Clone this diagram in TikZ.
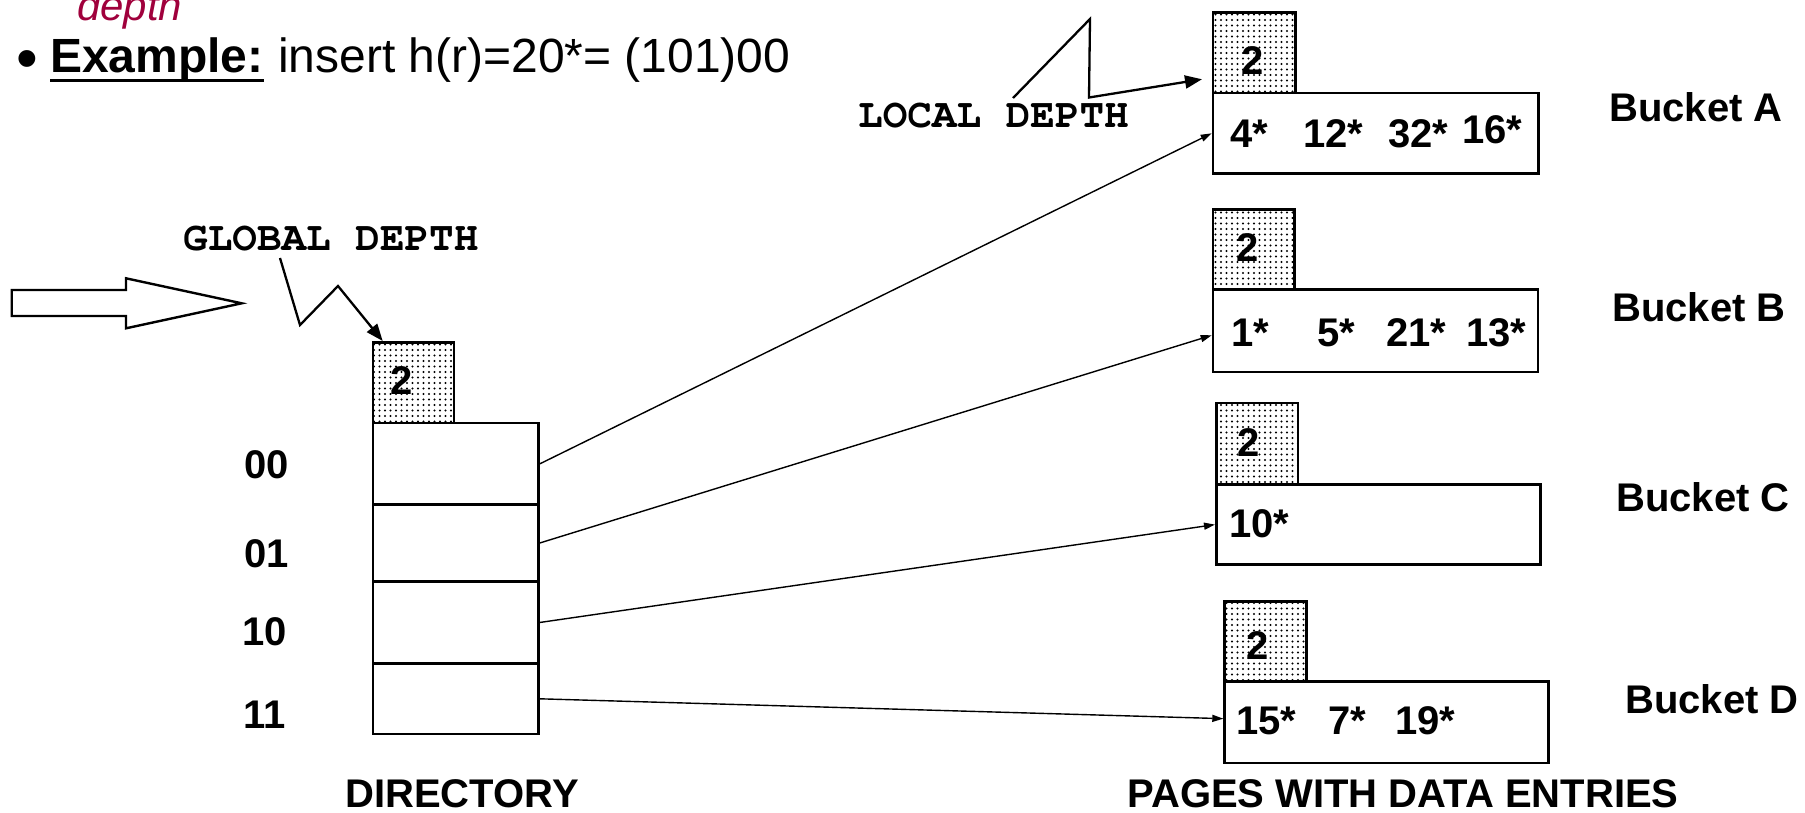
\documentclass[tikz,border=0pt]{standalone}
\usepackage[T1]{fontenc}
\usepackage{fontspec}
\setmainfont{Liberation Sans}
\usetikzlibrary{arrows.meta,patterns.meta}
\definecolor{crimson}{RGB}{160,0,60}
\newcommand\courbold{\fontencoding{T1}\fontfamily{pcr}\fontseries{b}\selectfont}
\tikzset{
  box/.style={draw, line width=2.6pt, inner sep=0pt, anchor=north west},
  dbox/.style={box, pattern={Dots[distance=5.5pt,radius=1.05pt]}},
  ent/.style={anchor=base west, inner sep=0pt, font=\fontsize{40}{48}\selectfont\bfseries},
  two/.style={anchor=base, inner sep=0pt, font=\fontsize{40}{48}\selectfont\bfseries},
  lbl/.style={anchor=base west, inner sep=0pt, font=\fontsize{40}{48}\selectfont\bfseries},
  mono/.style={anchor=base west, inner sep=0pt, font=\fontsize{41}{48}\courbold},
  conn/.style={line width=1.4pt, -{Triangle[length=11pt,width=7pt]}},
  zz/.style={line width=2.3pt, -{Triangle[length=17pt,width=13pt]}}
}
\begin{document}
\begin{tikzpicture}[x=1pt,y=-1pt]
\fill[white] (0,0) rectangle (1805,812);
\useasboundingbox (0,0) rectangle (1805,812);

% top text
\node[anchor=base west, inner sep=0pt, font=\fontsize{42}{50}\selectfont\itshape, text=crimson] (dep) at (77,20) {depth};
\node[anchor=base west, inner sep=0pt, font=\fontsize{62}{62}\selectfont] (bul) at (16,79) {•};
\node[anchor=base west, inner sep=0pt, font=\fontsize{48}{56}\selectfont\bfseries] (exb) at (50,72) {Example:};
\node[anchor=base west, inner sep=0pt, font=\fontsize{48}{56}\selectfont] (exr) at ([xshift=14pt]exb.base east) {insert h(r)=20*= (101)00};
\draw[line width=3pt] ([yshift=-8pt]exb.base west) -- ([yshift=-8pt]exb.base east);

% hollow arrow
\draw[line width=2.4pt] (11.7,290) -- (126,290) -- (126,278.3) -- (241.7,303.3) -- (126,328.3) -- (126,316) -- (11.7,316) -- cycle;

% directory
\node[dbox, minimum width=81pt, minimum height=80.7pt] (gd) at (371.7,341) {};
\node[two] (gd2) at (402,394) {2};
\node[box, minimum width=165.6pt, minimum height=81.6pt] (d00) at (371.7,421.7) {};
\node[box, minimum width=165.6pt, minimum height=76.7pt] (d01) at (371.7,503.3) {};
\node[box, minimum width=165.6pt, minimum height=82.3pt] (d10) at (371.7,580) {};
\node[box, minimum width=165.6pt, minimum height=70.4pt] (d11) at (371.7,662.3) {};
\node[lbl] (l00) at (244,478) {00};
\node[lbl] (l01) at (244,567) {01};
\node[lbl] (l10) at (242,645) {10};
\node[lbl] (l11) at (243,728) {11};

\node[mono] (gdl) at (183,250) {GLOBAL DEPTH};
\coordinate (gs) at (280,258);
\draw[zz] (gs) -- (300,325) -- (338,286) -- ([xshift=11pt]gd.north west);

% buckets
\node[dbox, minimum width=82.3pt, minimum height=80.7pt] (dA) at (1211.7,11) {};
\node[box, minimum width=325.3pt, minimum height=80.6pt] (bA) at (1211.7,91.7) {};
\node[dbox, minimum width=81.6pt, minimum height=80pt] (dB) at (1211.7,208.3) {};
\node[box, minimum width=325pt, minimum height=82.4pt] (bB) at (1211.7,288.3) {};
\node[dbox, minimum width=81.7pt, minimum height=81.6pt] (dC) at (1215,401.7) {};
\node[box, minimum width=324.3pt, minimum height=80pt] (bC) at (1215,483.3) {};
\node[dbox, minimum width=81.7pt, minimum height=80pt] (dD) at (1223.3,600) {};
\node[box, minimum width=324pt, minimum height=81.7pt] (bD) at (1223.3,680) {};

\node[two] (dA2) at (1252.5,74) {2};
\node[two] (dB2) at (1248,261) {2};
\node[two] (dC2) at (1249,456) {2};
\node[two] (dD2) at (1257.5,659) {2};

\node[ent] (a1) at (1230,147) {4*};
\node[ent] (a2) at (1303,147) {12*};
\node[ent] (a3) at (1388,147) {32*};
\node[ent] (a4) at (1462,143) {16*};
\node[ent] (b1) at (1231,346) {1*};
\node[ent] (b2) at (1317,346) {5*};
\node[ent] (b3) at (1386,346) {21*};
\node[ent] (b4) at (1466,346) {13*};
\node[ent] (c1) at (1229,537) {10*};
\node[ent] (e1) at (1236,734) {15*};
\node[ent] (e2) at (1328,734) {7*};
\node[ent] (e3) at (1395,734) {19*};

\node[lbl] (nA) at (1609,121.7) {Bucket A};
\node[lbl] (nB) at (1612,321.7) {Bucket B};
\node[lbl] (nC) at (1616,511.5) {Bucket C};
\node[lbl] (nD) at (1625,713) {Bucket D};

\node[mono] (ldl) at (858,127) {LOCAL DEPTH};
\coordinate (ls) at (1013,98);
\draw[zz] (ls) -- (1090,19) -- (1089,97.5) -- ([xshift=-9.7pt,yshift=-26.6pt]dA.west);

% connectors
\draw[conn] (d00.east) -- (bA.west);
\draw[conn] (d01.east) -- ([yshift=-4.5pt]bB.west);
\draw[conn] (d10.east) -- (bC.west);
\draw[conn] (d11.east) -- ([yshift=3.5pt]bD.west);

% captions
\node[lbl, anchor=base] (dirl) at (462,807) {DIRECTORY};
\node[lbl, anchor=base] (pgl) at (1403,807) {PAGES WITH DATA ENTRIES};
\end{tikzpicture}
\end{document}
